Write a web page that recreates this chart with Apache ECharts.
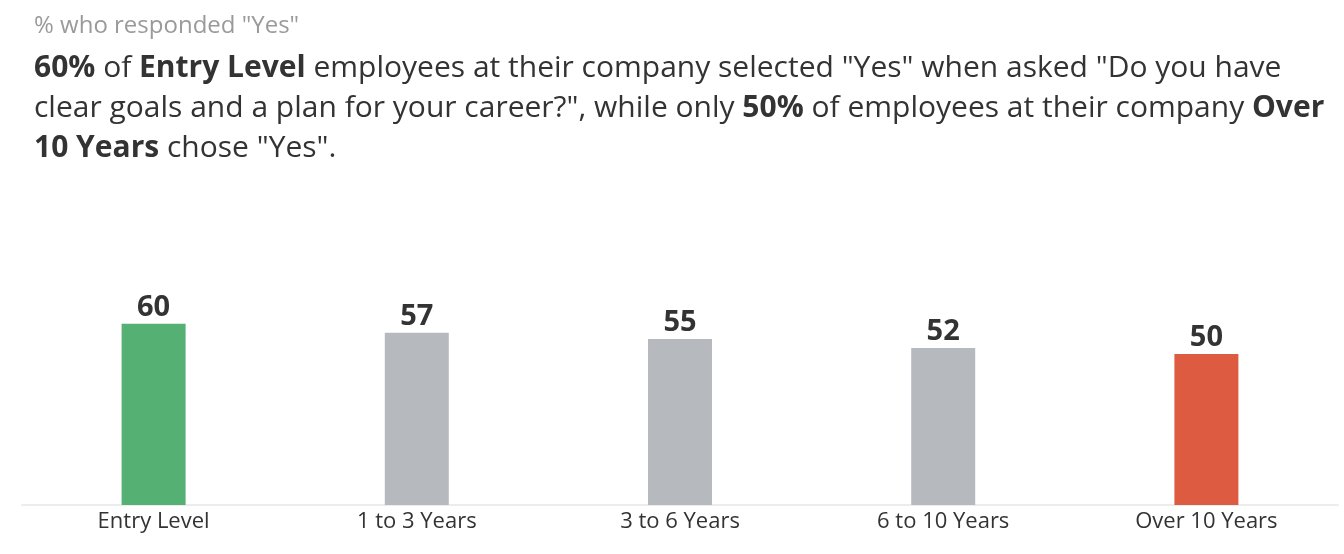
<!DOCTYPE html>
<html>
<head>
<meta charset="utf-8">
<script src="https://cdn.jsdelivr.net/npm/echarts@6/dist/echarts.min.js"></script>
<style>
html,body{margin:0;padding:0;background:#fff;}
#c{width:1344px;height:554px;}
</style>
</head>
<body>
<div id="c"></div>
<script>
const categories = ["Entry Level", "1 to 3 Years", "3 to 6 Years", "6 to 10 Years", "Over 10 Years"];
const values = [60, 57, 55, 52, 50];
const barColors = ["#55b073", "#b6babe", "#b6babe", "#b6babe", "#dd5c41"];
const subtitleText = '% who responded "Yes"';
const headlineText =
  '{b|60%}{n| of }{b|Entry Level}{n| employees at their company selected "Yes" when asked "Do you have}\n' +
  '{n|clear goals and a plan for your career?", while only }{b|50%}{n| of employees at their company }{b|Over}\n' +
  '{b|10 Years}{n| chose "Yes".}';

const chart = echarts.init(document.getElementById('c'));
chart.setOption({
  backgroundColor: '#fff',
  animation: false,
  textStyle: { fontFamily: 'Open Sans' },
  title: [
    {
      text: subtitleText,
      left: 34, top: 14, padding: 0,
      textStyle: { fontFamily: 'Open Sans', fontSize: 24, fontWeight: 'normal', color: '#9a9a9a' }
    },
    {
      text: headlineText,
      left: 34, top: 48, padding: 0,
      textStyle: {
        fontFamily: 'Open Sans', fontSize: 30, lineHeight: 40, color: '#333',
        rich: {
          b: { fontFamily: 'Open Sans', fontSize: 30, fontWeight: 'bold', color: '#333', lineHeight: 40 },
          n: { fontFamily: 'Open Sans', fontSize: 30, fontWeight: 'normal', color: '#333', lineHeight: 40 }
        }
      }
    }
  ],
  grid: { left: 22, right: 6, top: 203, bottom: 49, containLabel: false },
  xAxis: {
    type: 'category',
    data: categories,
    axisLine: { show: true, lineStyle: { color: '#ececec', width: 2 } },
    axisTick: { show: false },
    axisLabel: { fontFamily: 'Open Sans', fontSize: 22, color: '#333', margin: 6 }
  },
  yAxis: {
    type: 'value', min: 0, max: 100, show: false,
    splitLine: { show: false }
  },
  series: [{
    type: 'bar',
    data: values.map((v, i) => ({ value: v, itemStyle: { color: barColors[i] } })),
    barWidth: 64,
    label: {
      show: true, position: 'top', distance: 2,
      fontFamily: 'Open Sans', fontSize: 29, fontWeight: 'bold', color: '#333'
    }
  }]
});
</script>
</body>
</html>
